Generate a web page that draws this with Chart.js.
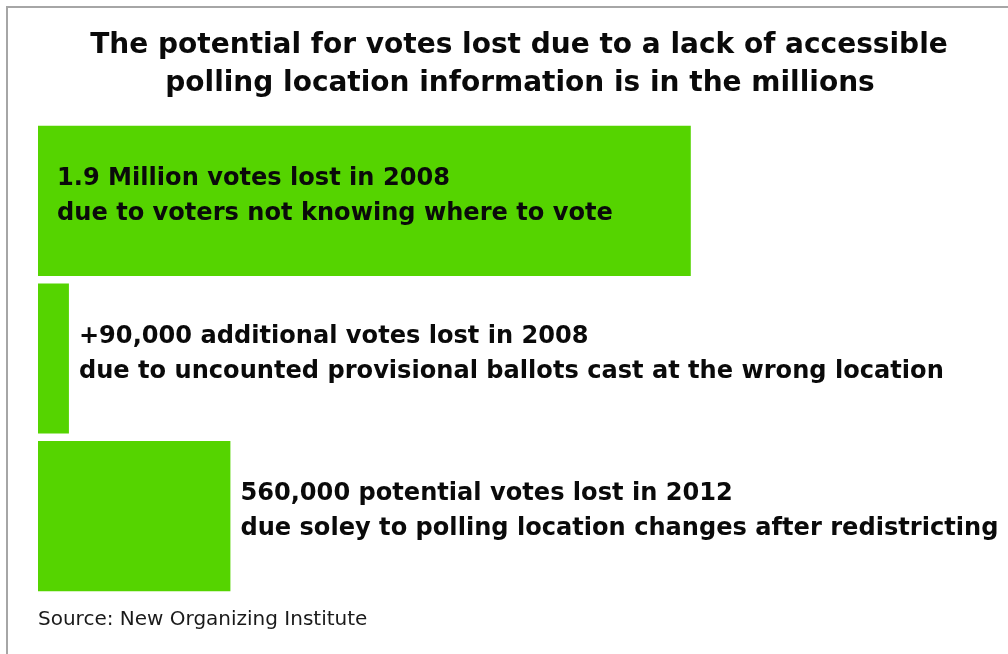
<!DOCTYPE html>
<html>
<head>
<meta charset="utf-8">
<script src="https://cdn.jsdelivr.net/npm/chart.js@4"></script>
<style>
  html, body { margin: 0; padding: 0; background: #ffffff; }
  #wrap { width: 1008px; height: 654px; position: relative; }
</style>
</head>
<body>
<div id="wrap"><canvas id="c" width="1008" height="654"></canvas></div>
<script>
const categories = ["2008 — not knowing where to vote", "2008 — provisional ballots", "2012 — redistricting"];
const votesLost = [1900000, 90000, 560000];
const labelLine1 = [
  "1.9 Million votes lost in 2008",
  "+90,000 additional votes lost in 2008",
  "560,000 potential votes lost in 2012"
];
const labelLine2 = [
  "due to voters not knowing where to vote",
  "due to uncounted provisional ballots cast at the wrong location",
  "due soley to polling location changes after redistricting"
];
const titleLines = [
  "The potential for votes lost due to a lack of accessible",
  "polling location information is in the millions"
];
const sourceText = "Source: New Organizing Institute";

const FONT = "'DejaVu Sans', sans-serif";

const textPlugin = {
  id: 'textPlugin',
  afterDraw(chart) {
    const ctx = chart.ctx;
    ctx.save();
    // frame
    ctx.strokeStyle = '#a6a6a6';
    ctx.lineWidth = 2;
    ctx.beginPath();
    ctx.moveTo(7, 654);
    ctx.lineTo(7, 7);
    ctx.lineTo(1008, 7);
    ctx.stroke();

    // title
    ctx.fillStyle = '#0a0a0a';
    ctx.font = "bold 28px " + FONT;
    ctx.textAlign = 'center';
    ctx.textBaseline = 'middle';
    ctx.fillText(titleLines[0], 519, 46);
    ctx.fillText(titleLines[1], 520, 84);

    // bar labels
    const meta = chart.getDatasetMeta(0);
    const maxVal = Math.max(...votesLost);
    ctx.textAlign = 'left';
    ctx.textBaseline = 'middle';
    ctx.font = "bold 24.1px " + FONT;
    meta.data.forEach((bar, i) => {
      const inside = votesLost[i] === maxVal;
      const x = inside ? bar.base + 19 : bar.x + 10;
      ctx.fillText(labelLine1[i], x, bar.y - 22);
      ctx.fillText(labelLine2[i], x, bar.y + 13);
    });

    // source
    ctx.font = "20px " + FONT;
    ctx.fillStyle = '#1a1a1a';
    ctx.fillText(sourceText, chart.chartArea.left, 620);
    ctx.restore();
  }
};

new Chart(document.getElementById('c'), {
  type: 'bar',
  data: {
    labels: categories,
    datasets: [{
      data: votesLost,
      backgroundColor: '#55d400',
      borderWidth: 0,
      categoryPercentage: 1,
      barPercentage: 0.952
    }]
  },
  options: {
    indexAxis: 'y',
    responsive: false,
    animation: false,
    layout: { padding: { left: 38, right: 8, top: 122, bottom: 59 } },
    scales: {
      x: { display: false, min: 0, max: 2800000 },
      y: { display: false }
    },
    plugins: {
      legend: { display: false },
      title: { display: false },
      tooltip: { enabled: false }
    }
  },
  plugins: [textPlugin]
});
</script>
</body>
</html>
